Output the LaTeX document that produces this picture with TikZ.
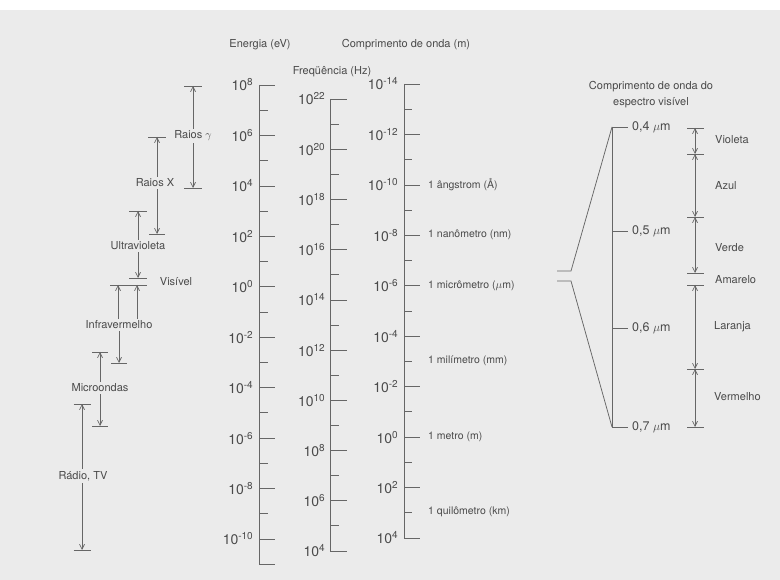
\documentclass[tikz,border=0pt]{standalone}
\usepackage{fontspec}
\setmainfont{TeX Gyre Heros}
\usetikzlibrary{arrows.meta,calc}

\definecolor{inkgray}{HTML}{4A4A4A}
\definecolor{linegray}{HTML}{666666}
\definecolor{papergray}{HTML}{EBEBEB}

% power of ten label
\newcommand{\pot}[1]{10\raisebox{5pt}{\fontsize{10}{11}\selectfont #1}}

\tikzset{
  axisline/.style={draw=linegray, line width=0.75pt},
  numlabel/.style={anchor=east, inner sep=1pt, font=\fontsize{14}{15}\selectfont},
  unitlabel/.style={anchor=west, inner sep=1pt, font=\fontsize{10.5}{12}\selectfont},
  bandlabel/.style={inner sep=2pt},
  bandbar/.style={draw=linegray, line width=0.75pt},
  bandarrow/.style={draw=linegray, line width=0.7pt,
    -{Straight Barb[length=5pt,width=5pt]}},
  colorarrow/.style={draw=linegray, line width=0.7pt,
    {Straight Barb[length=5pt,width=5pt]}-{Straight Barb[length=5pt,width=5pt]}},
  vislabel/.style={anchor=west, inner sep=1pt, font=\fontsize{12.5}{14}\selectfont}
}

\begin{document}
\begin{tikzpicture}[x=1pt, y=-1pt,
    every node/.style={text=inkgray, font=\fontsize{11}{13}\selectfont}]
  \fill[white] (0,0) rectangle (780,580);
  \fill[papergray] (0,10) rectangle (780,580);
  \useasboundingbox (0,0) rectangle (780,580);

  % titles
  \node (entitle) at (260,45) {Energia (eV)};
  \node (wltitle) at (406,45) {Comprimento de onda (m)};
  \node (frtitle) at (332,72) {Freqüência (Hz)};

  % energy scale
  \draw[axisline] (259,85) -- (259,564) -- (275,564);
  \foreach \e [count=\i] in {8,6,...,-10} {
    \draw[axisline] (259,{85+(8-\e)*25.22}) -- ++(16,0);
    \node[numlabel] (en\i) at (254,{85+(8-\e)*25.22}) {\pot{\e}};
  }
  \foreach \e in {7,5,...,-9}
    \draw[axisline] (259,{85+(8-\e)*25.22}) -- ++(9,0);

  % frequency scale
  \draw[axisline] (330,99) -- (330,551);
  \foreach \f [count=\i] in {22,20,...,4} {
    \draw[axisline] (330,{99+(22-\f)*25.11}) -- ++(17,0);
    \node[numlabel] (fr\i) at (326,{99+(22-\f)*25.11}) {\pot{\f}};
  }
  \foreach \f in {21,19,...,5}
    \draw[axisline] (330,{99+(22-\f)*25.11}) -- ++(9,0);

  % wavelength scale
  \draw[axisline] (404,84) -- (404,538);
  \foreach \w [count=\i] in {-14,-12,...,4} {
    \draw[axisline] (404,{84+(\w+14)*25.22}) -- ++(16,0);
    \node[numlabel] (wl\i) at (399,{84+(\w+14)*25.22}) {\pot{\w}};
  }
  \foreach \w in {-13,-11,...,3}
    \draw[axisline] (404,{84+(\w+14)*25.22}) -- ++(8,0);

  \node[unitlabel] (angs) at (427,185) {1 ângstrom (Å)};
  \node[unitlabel] (nano) at (427,235) {1 nanômetro (nm)};
  \node[unitlabel] (micro) at (427,286) {1 micrômetro ($\mu$m)};
  \node[unitlabel] (mili) at (427,361) {1 milímetro (mm)};
  \node[unitlabel] (metro) at (427,437) {1 metro (m)};
  \node[unitlabel] (quilo) at (427,512) {1 quilômetro (km)};

  % spectral bands
  \coordinate (gtop) at (193,86);
  \coordinate (gbot) at (193,188);
  \coordinate (xtop) at (157,137);
  \coordinate (xbot) at (157,234);
  \coordinate (utop) at (138,211);
  \coordinate (ubot) at (138,278);
  \coordinate (vbar) at (128.5,285);
  \coordinate (iup) at (118,285);
  \coordinate (iupb) at (137,285);
  \coordinate (ibot) at (119,363);
  \coordinate (mtop) at (100,352);
  \coordinate (mbot) at (100,426);
  \coordinate (rtop) at (82,404);
  \coordinate (rbot) at (82,550);
  \foreach \c/\w in {gtop/9,gbot/9,xtop/9,xbot/8,utop/9,ubot/9,vbar/18.5,
                     ibot/8,mtop/8,mbot/8,rtop/8.5,rbot/8.5}
    \draw[bandbar] ([xshift=-\w pt]\c) -- ([xshift=\w pt]\c);

  \node[bandlabel] (gama) at (193,136) {Raios $\gamma$};
  \node[bandlabel] (raiox) at (155,183) {Raios X};
  \node[bandlabel] (ultra) at (138,246) {Ultravioleta};
  \node[bandlabel] (visivel) at (176,282) {Visível};
  \node[bandlabel] (infra) at (119,325) {Infravermelho};
  \node[bandlabel] (microo) at (100,388) {Microondas};
  \node[bandlabel] (radio) at (83,476) {Rádio, TV};

  \draw[bandarrow] (gama.north) -- (gtop);
  \draw[bandarrow] (gama.south) -- (gbot);
  \draw[bandarrow] (raiox.north -| xtop) -- (xtop);
  \draw[bandarrow] (raiox.south -| xbot) -- (xbot);
  \draw[bandarrow] (ultra.north) -- (utop);
  \draw[bandarrow] (ultra.south) -- (ubot);
  \draw[bandarrow] (infra.north -| iup) -- (iup);
  \draw[bandarrow] (infra.north -| iupb) -- (iupb);
  \draw[bandarrow] (infra.south) -- (ibot);
  \draw[bandarrow] (microo.north) -- (mtop);
  \draw[bandarrow] (microo.south) -- (mbot);
  \draw[bandarrow] (radio.north -| rtop) -- (rtop);
  \draw[bandarrow] (radio.south -| rbot) -- (rbot);

  % visible spectrum
  \node[align=center, font=\fontsize{11}{16}\selectfont] (vistitle) at (651,95)
    {Comprimento de onda do\\espectro visível};
  \coordinate (v04) at (612,127);
  \coordinate (v05) at (612,231);
  \coordinate (v06) at (612,328);
  \coordinate (v07) at (612,427);
  \coordinate (funa) at (557,271);
  \coordinate (funb) at (557,281);
  \draw[axisline] (v04) -- (v07);
  \foreach \v/\t in {v04/{0,4},v05/{0,5},v06/{0,6},v07/{0,7}} {
    \draw[axisline] (\v) -- ++(16,0);
    \node[vislabel] (l\v) at ([xshift=19pt]\v) {\t\ $\mu$m};
  }
  \draw[axisline] (funa) -- ++(14,0) -- (v04);
  \draw[axisline] (funb) -- ++(14,0) -- (v07);

  % colours
  \foreach \y [count=\i] in {128,154,217,273,285,369,427} {
    \coordinate (c\i) at (695,\y);
    \draw[bandbar] ([xshift=-8pt]c\i) -- ([xshift=9pt]c\i);
  }
  \draw[colorarrow] (c1) -- (c2);
  \draw[colorarrow] (c2) -- (c3);
  \draw[colorarrow] (c3) -- (c4);
  \draw[colorarrow] (c5) -- (c6);
  \draw[colorarrow] (c6) -- (c7);
  \node[vislabel, font=\fontsize{11}{13}\selectfont] (violeta) at (714,140) {Violeta};
  \node[vislabel, font=\fontsize{11}{13}\selectfont] (azul) at (714,186) {Azul};
  \node[vislabel, font=\fontsize{11}{13}\selectfont] (verde) at (714,248) {Verde};
  \node[vislabel, font=\fontsize{11}{13}\selectfont] (amarelo) at (714,280) {Amarelo};
  \node[vislabel, font=\fontsize{11}{13}\selectfont] (laranja) at (713,327) {Laranja};
  \node[vislabel, font=\fontsize{11}{13}\selectfont] (vermelho) at (713,397) {Vermelho};
\end{tikzpicture}
\end{document}
